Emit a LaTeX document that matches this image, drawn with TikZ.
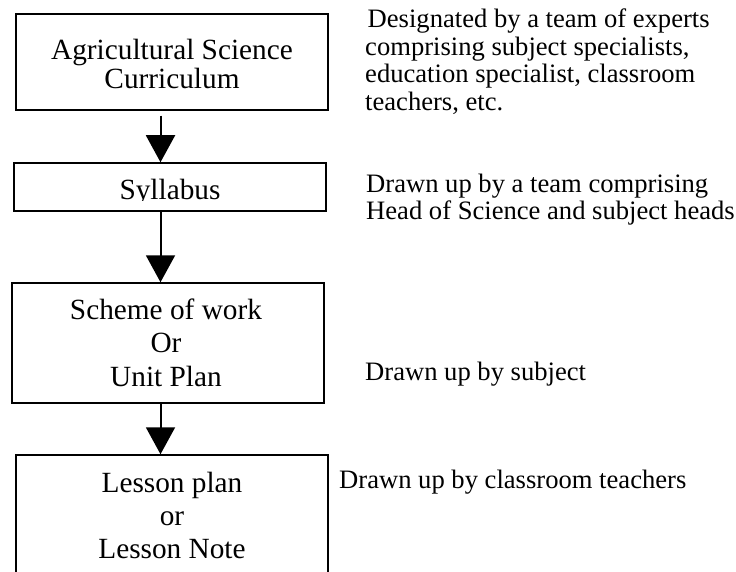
\documentclass[tikz,border=0pt]{standalone}
\usepackage{fontspec}
\setmainfont{Liberation Serif}
\usetikzlibrary{arrows.meta}
\tikzset{
  flowbox/.style={draw, line width=1.5pt, inner sep=0pt, minimum width=312pt},
  boxtext/.style={anchor=base, inner sep=0pt, font=\fontsize{29.3}{#1}\selectfont},
  boxtext/.default=33.5,
  sidetext/.style={anchor=base west, inner sep=0pt, font=\fontsize{26.6}{#1}\selectfont},
  sidetext/.default=27.6,
  flowarrow/.style={line width=2pt, -{Triangle[width=29pt,length=27pt]}}
}
\begin{document}
\begin{tikzpicture}[x=1pt,y=-1pt]
\useasboundingbox (0,0) rectangle (736,572);
% boxes
\node[flowbox, minimum height=96pt]  (b1) at (172,62)  {};
\node[flowbox, minimum height=48pt]  (b2) at (170,187) {};
\node[flowbox, minimum height=120pt] (b3) at (168,343) {};
\node[flowbox, minimum height=170pt] (b4) at (172,540) {};
% box texts
\node[boxtext=27.5] (t1) at (172,60) {\begin{tabular}[t]{@{}c@{}}Agricultural Science\\Curriculum\end{tabular}};
\begin{scope}
  \clip (14,163) rectangle (326,200.8);
  \node[boxtext] (t2) at (170,200) {Syllabus};
\end{scope}
\node[boxtext=33.5] (t3) at (166,319) {\begin{tabular}[t]{@{}c@{}}Scheme of work\\Or\\Unit Plan\end{tabular}};
\node[boxtext=33] (t4) at (172,492) {\begin{tabular}[t]{@{}c@{}}Lesson plan\\or\\Lesson Note\end{tabular}};
% arrows
\coordinate (ax) at (160.5,0);
\draw[flowarrow] ([yshift=-5pt]b1.south -| ax) -- (b2.north -| ax);
\draw[flowarrow] (b2.south -| ax) -- (b3.north -| ax);
\draw[flowarrow] (b3.south -| ax) -- (b4.north -| ax);
% side notes
\node[sidetext] (n1) at (365,27.5) {\begin{tabular}[t]{@{}l@{}}\hspace{2.5pt}Designated by a team of experts\\comprising subject specialists,\\education specialist, classroom\\teachers, etc.\end{tabular}};
\node[sidetext=27.5] (n2) at (366,192.5) {\begin{tabular}[t]{@{}l@{}}Drawn up by a team comprising\\Head of Science and subject heads\end{tabular}};
\node[sidetext] (n3) at (365,380) {Drawn up by subject};
\node[sidetext] (n4) at (339,488) {Drawn up by classroom teachers};
\end{tikzpicture}
\end{document}
